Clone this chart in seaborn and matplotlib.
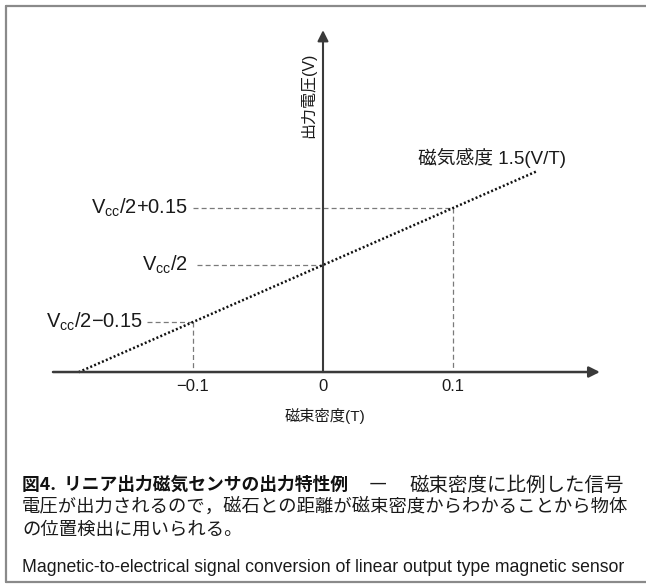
import numpy as np
import pandas as pd
import matplotlib
matplotlib.use("Agg")
import matplotlib.pyplot as plt
from matplotlib.lines import Line2D
import seaborn as sns

# データ
SENSITIVITY = 1.5                     # V/T
line_field = [-0.188, 0.165]          # 点線の範囲 (T)
field_ticks = [-0.1, 0.0, 0.1]
field_tick_labels = ["\u22120.1", "0", "0.1"]
voltage_offsets = [-0.15, 0.0, 0.15]  # Vcc/2 からのずれ (V)
voltage_labels = ["V$_{\\mathrm{cc}}$/2\u22120.15", "V$_{\\mathrm{cc}}$/2", "V$_{\\mathrm{cc}}$/2+0.15"]
label_right = [-0.1385, -0.1038, -0.1038]
dash_start = [-0.135, -0.097, -0.1]
axis_level = -0.2816                  # x軸の位置 (V)

sns.set_theme(style="white")
plt.rcParams['font.family'] = ['Liberation Sans', 'Noto Sans CJK JP']
plt.rcParams['mathtext.fontset'] = 'custom'
plt.rcParams['mathtext.rm'] = 'Liberation Sans'
plt.rcParams['mathtext.it'] = 'Liberation Sans:italic'

fig = plt.figure(figsize=(6.46, 5.86), dpi=100)
ax = fig.add_axes([0, 0, 1, 1])
ax.set_xlim(-0.24846, 0.24846)
ax.set_ylim(-0.8447, 0.6974)
ax.axis("off")

axis_col = "#3a3a3a"
dash_col = "#7a7a7a"
text_col = "#1a1a1a"

# 軸 (矢印)
ax.annotate("", xy=(0.213, axis_level), xytext=(-0.2077, axis_level),
            arrowprops=dict(arrowstyle="-|>", color=axis_col, lw=1.8,
                            mutation_scale=16, shrinkA=0, shrinkB=0))
ax.annotate("", xy=(0.0, 0.618), xytext=(0.0, axis_level),
            arrowprops=dict(arrowstyle="-|>", color=axis_col, lw=1.5,
                            mutation_scale=16, shrinkA=0, shrinkB=0))

# 補助線 (破線)
for v, xs in zip(voltage_offsets, dash_start):
    xp = v / SENSITIVITY
    ax.plot([xs, xp], [v, v], color=dash_col, lw=0.9, linestyle=(0, (4, 2.5)))
    if v != 0:
        ax.plot([xp, xp], [v, axis_level], color=dash_col, lw=0.9,
                linestyle=(0, (4, 2.5)))

# 出力特性 (点線)
df = pd.DataFrame({"B": line_field})
df["V"] = SENSITIVITY * df["B"]
sns.lineplot(data=df, x="B", y="V", ax=ax, color="#111111", lw=1.8,
             linestyle=(0, (0.8, 0.9)), legend=False)

# 目盛りラベル
for t, lab in zip(field_ticks, field_tick_labels):
    ax.text(t, -0.321, lab, ha="center", va="center", fontsize=12, color=text_col)

for v, lab, xr in zip(voltage_offsets, voltage_labels, label_right):
    ax.text(xr, v, lab, ha="right", va="center", fontsize=14.5, color=text_col)

ax.text(0.0015, -0.397, "磁束密度(T)", ha="center", va="center", fontsize=11,
        color=text_col)
ax.text(-0.0115, 0.447, "出力電圧(V)", ha="center", va="center", rotation=90,
        fontsize=11.5, color=text_col)
ax.text(0.073, 0.2816, "磁気感度 1.5(V/T)", ha="left", va="center", fontsize=13.5,
        color=text_col)

# キャプション
cap_x = 22 / 646
cap_right = 624 / 646
cap_size = 13.2
y1 = 1 - 485 / 586
fig.text(cap_x, y1, "図4.  リニア出力磁気センサの出力特性例",
         ha="left", va="center", fontsize=12.8, fontweight="bold",
         family="Noto Sans CJK JP", color="#111111")
fig.text(378 / 646, y1, "\u2015", ha="center", va="center", fontsize=cap_size,
         family="Noto Sans CJK JP", color=text_col)
fig.text(cap_right, y1, "磁束密度に比例した信号", ha="right", va="center",
         fontsize=14, family="Noto Sans CJK JP", color=text_col)
fig.text(cap_x, 1 - 507 / 586, "電圧が出力されるので，磁石との距離が磁束密度からわかることから物体",
         ha="left", va="center", fontsize=cap_size, family="Noto Sans CJK JP", color=text_col)
fig.text(cap_x, 1 - 530 / 586, "の位置検出に用いられる。",
         ha="left", va="center", fontsize=cap_size, family="Noto Sans CJK JP", color=text_col)
fig.text(cap_x, 1 - 568 / 586,
         "Magnetic-to-electrical signal conversion of linear output type magnetic sensor",
         ha="left", va="center", fontsize=12.7, color=text_col)

# 枠
frame_col = "#8a8a8a"
fig.add_artist(Line2D([6 / 646, 6 / 646], [1 - 6 / 586, 1 - 582 / 586],
                      transform=fig.transFigure, color=frame_col, lw=1.6))
fig.add_artist(Line2D([6 / 646, 1], [1 - 6 / 586, 1 - 6 / 586],
                      transform=fig.transFigure, color=frame_col, lw=1.6))
fig.add_artist(Line2D([6 / 646, 1], [1 - 582 / 586, 1 - 582 / 586],
                      transform=fig.transFigure, color=frame_col, lw=1.6))

fig.savefig("out.png", dpi=100, facecolor="white")
